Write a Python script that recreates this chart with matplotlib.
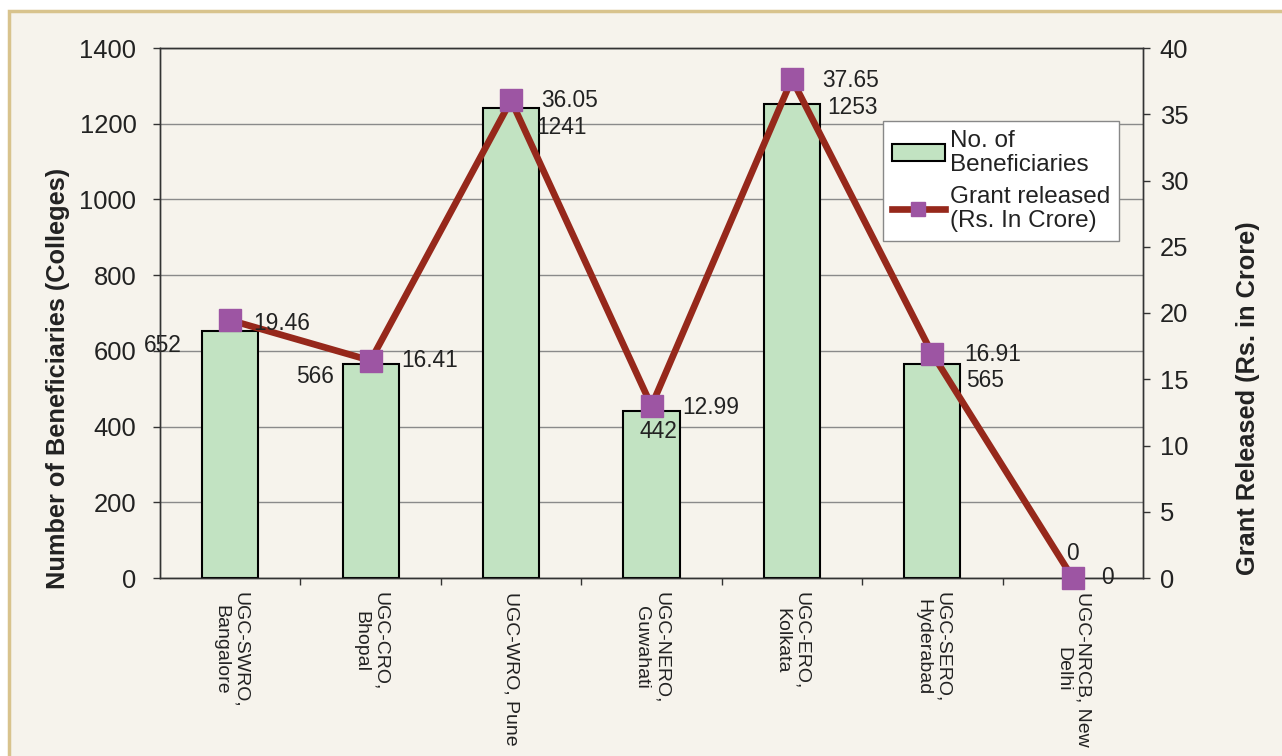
import numpy as np
import matplotlib.pyplot as plt
from matplotlib.patches import Rectangle

plt.rcParams['font.family'] = ['Liberation Sans', 'DejaVu Sans']

regions = ['UGC-SWRO,\nBangalore', 'UGC-CRO,\nBhopal', 'UGC-WRO, Pune',
           'UGC-NERO,\nGuwahati', 'UGC-ERO,\nKolkata', 'UGC-SERO,\nHyderabad',
           'UGC-NRCB, New\nDelhi']
beneficiaries = [652, 566, 1241, 442, 1253, 565, 0]
grant = [19.46, 16.41, 36.05, 12.99, 37.65, 16.91, 0]

# label offsets in pixels (hand placed to mimic the original)
bar_off = [(-67, -14), (-56, -13), (50, -19), (7, -21), (61, -4), (53, -16), (0, 25)]
line_off = [(51, -3), (59, 0), (58, 0), (59, -2), (59, -1), (60, -1), (35, 0)]

txt = '#222222'
bar_col = '#c2e3c2'
line_col = '#96281b'
mark_col = '#9d55a3'

fig = plt.figure(figsize=(12.82, 7.56), dpi=100)
fig.patch.set_facecolor('white')
# panel background with tan border
fig.patches.append(Rectangle((9 / 1282, -0.1), 1.2, 1.1 - 11 / 756,
                             transform=fig.transFigure, facecolor='#f6f3ec',
                             edgecolor='#d8c38d', linewidth=2.5, zorder=-10))

ax = fig.add_axes([160 / 1282, 178 / 756, 983 / 1282, 530 / 756])
ax.patch.set_alpha(0)
x = np.arange(len(regions))

edges = ['black' if v > 0 else 'none' for v in beneficiaries]
ax.bar(x, beneficiaries, width=0.4, color=bar_col, edgecolor=edges,
       linewidth=1.5, zorder=3, label='No. of\nBeneficiaries')
ax.set_ylim(0, 1400)
ax.set_xlim(-0.5, len(regions) - 0.5)
ax.set_yticks(np.arange(0, 1401, 200))
ax.grid(axis='y', color='#8a8a8a', linewidth=1, zorder=0)
ax.set_axisbelow(True)

ax.set_xticks(np.arange(0.5, len(regions) - 0.5, 1))
ax.set_xticklabels([])
ax.set_xticks(x, minor=True)
ax.set_xticklabels(regions, minor=True, rotation=-90, fontsize=14,
                   color=txt, ma='center')
ax.tick_params(axis='x', which='major', length=5, width=1, color='#333333')
ax.tick_params(axis='x', which='minor', length=0, pad=10)
ax.tick_params(axis='y', length=5, width=1, pad=12, labelsize=18.4,
               labelcolor=txt, color='#333333')
for s in ax.spines.values():
    s.set_color('#333333')
    s.set_linewidth(1)

ax.set_ylabel('Number of Beneficiaries (Colleges)', fontsize=18.3,
              fontweight='bold', color=txt)
ax.yaxis.set_label_coords(-0.1038, 0.377)
ax.yaxis.label.set_va('center')

for i, v in enumerate(beneficiaries):
    ax.annotate(str(v), (x[i], v), xytext=bar_off[i], textcoords='offset pixels',
                ha='center', va='center', fontsize=16.4, color=txt, zorder=6)

ax2 = ax.twinx()
ax2.plot(x, grant, color=line_col, linewidth=4.8, marker='s', markersize=16,
         markerfacecolor=mark_col, markeredgecolor=mark_col, zorder=5,
         clip_on=False, label='Grant released\n(Rs. In Crore)')
ax2.set_ylim(0, 40)
ax2.set_yticks(np.arange(0, 41, 5))
ax2.tick_params(axis='y', length=5, width=1, pad=7, labelsize=18.4,
                labelcolor=txt, color='#333333')
for s in ax2.spines.values():
    s.set_color('#333333')
    s.set_linewidth(1)
ax2.set_ylabel('Grant Released (Rs. in Crore)', fontsize=18.3,
               fontweight='bold', color=txt)
ax2.yaxis.set_label_coords(1.1068, 0.34)
ax2.yaxis.label.set_va('center')

for i, v in enumerate(grant):
    lab = '0' if v == 0 else f'{v:.2f}'
    ax2.annotate(lab, (x[i], v), xytext=line_off[i], textcoords='offset pixels',
                 ha='center', va='center', fontsize=16.4, color=txt, zorder=6)

h1, l1 = ax.get_legend_handles_labels()
h2, l2 = ax2.get_legend_handles_labels()
leg = ax2.legend(h1 + h2, l1 + l2, loc='upper left',
                 bbox_to_anchor=((883 - 160) / 983, (578 - 121) / 530),
                 fontsize=17.5, frameon=True, fancybox=False, framealpha=1,
                 edgecolor='#888888', handlelength=2.2, handletextpad=0.2,
                 borderpad=0.35, labelspacing=0.4, borderaxespad=0)
leg.get_frame().set_linewidth(1)
leg.legend_handles[1].set_markersize(10)
for t in leg.get_texts():
    t.set_linespacing(1.15)
    t.set_color(txt)

fig.savefig('out.png', dpi=100)
